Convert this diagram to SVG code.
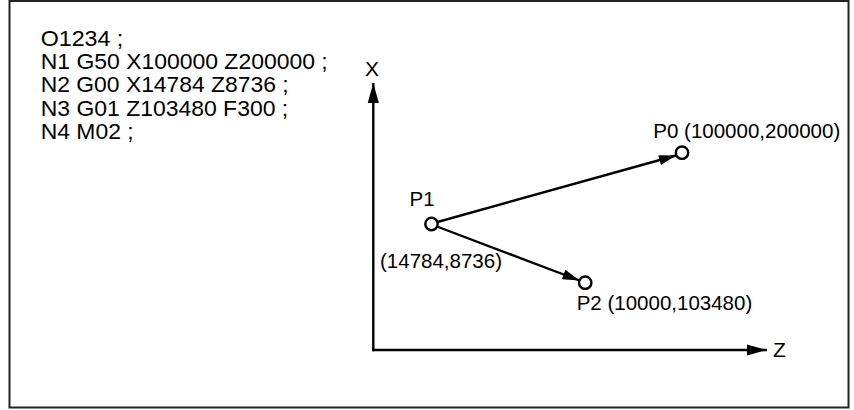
<svg xmlns="http://www.w3.org/2000/svg" width="854" height="410" viewBox="0 0 854 410">
<style>
text{font-family:"Liberation Sans",Arial,Helvetica,sans-serif;fill:#000}
.code{font-size:21.5px}
.lbl{font-size:20.5px}
.ax{font-size:21px}
.ln{stroke:#000;stroke-width:2.4;fill:none}
.pt{fill:#fff;stroke:#000;stroke-width:2.4}
</style>
<defs>
<marker id="ah" markerUnits="userSpaceOnUse" markerWidth="20" markerHeight="12" refX="18" refY="5" orient="auto" viewBox="0 0 18 10">
<path d="M0,0 L18,5 L0,10 Z" fill="#000"/>
</marker>
<marker id="ah2" markerUnits="userSpaceOnUse" markerWidth="18" markerHeight="10" refX="17" refY="5" orient="auto" viewBox="0 0 17 10">
<path d="M0,0 L17,5 L0,10 Z" fill="#000"/>
</marker>
</defs>
<rect x="9.5" y="1" width="839" height="406.5" fill="#fff" stroke="#222" stroke-width="2"/>
<g id="program">
<text class="code" x="40.7" y="45.7" textLength="82.6" lengthAdjust="spacingAndGlyphs">O1234 ;</text>
<text class="code" x="40.7" y="69" textLength="287" lengthAdjust="spacingAndGlyphs">N1 G50 X100000 Z200000 ;</text>
<text class="code" x="40.7" y="92.3" textLength="248" lengthAdjust="spacingAndGlyphs">N2 G00 X14784 Z8736 ;</text>
<text class="code" x="40.7" y="115.6" textLength="247.5" lengthAdjust="spacingAndGlyphs">N3 G01 Z103480 F300 ;</text>
<text class="code" x="40.7" y="139" textLength="93" lengthAdjust="spacingAndGlyphs">N4 M02 ;</text>
</g>
<g id="connectors">
<line class="ln" x1="373.3" y1="351.2" x2="373.3" y2="83" marker-end="url(#ah)"/>
<line class="ln" x1="372.1" y1="350" x2="767" y2="350" marker-end="url(#ah)"/>
<line class="ln" x1="437.5" y1="222" x2="676" y2="155.5" marker-end="url(#ah2)"/>
<line class="ln" x1="437" y1="226.5" x2="579.5" y2="280.5" marker-end="url(#ah2)"/>
</g>
<g id="axis-x"><text class="ax" x="365" y="76">X</text></g>
<g id="axis-z"><text class="ax" x="773" y="357">Z</text></g>
<g id="P1">
<circle class="pt" cx="431.5" cy="224" r="6.2"/>
<text class="lbl" x="409.5" y="205.5">P1</text>
<text class="lbl" x="380" y="268.3">(14784,8736)</text>
</g>
<g id="P0">
<circle class="pt" cx="682" cy="152.7" r="6.2"/>
<text class="lbl" x="653.3" y="138">P0 (100000,200000)</text>
</g>
<g id="P2">
<circle class="pt" cx="585.2" cy="282.7" r="6.2"/>
<text class="lbl" x="576.7" y="310.3">P2 (10000,103480)</text>
</g>
</svg>
